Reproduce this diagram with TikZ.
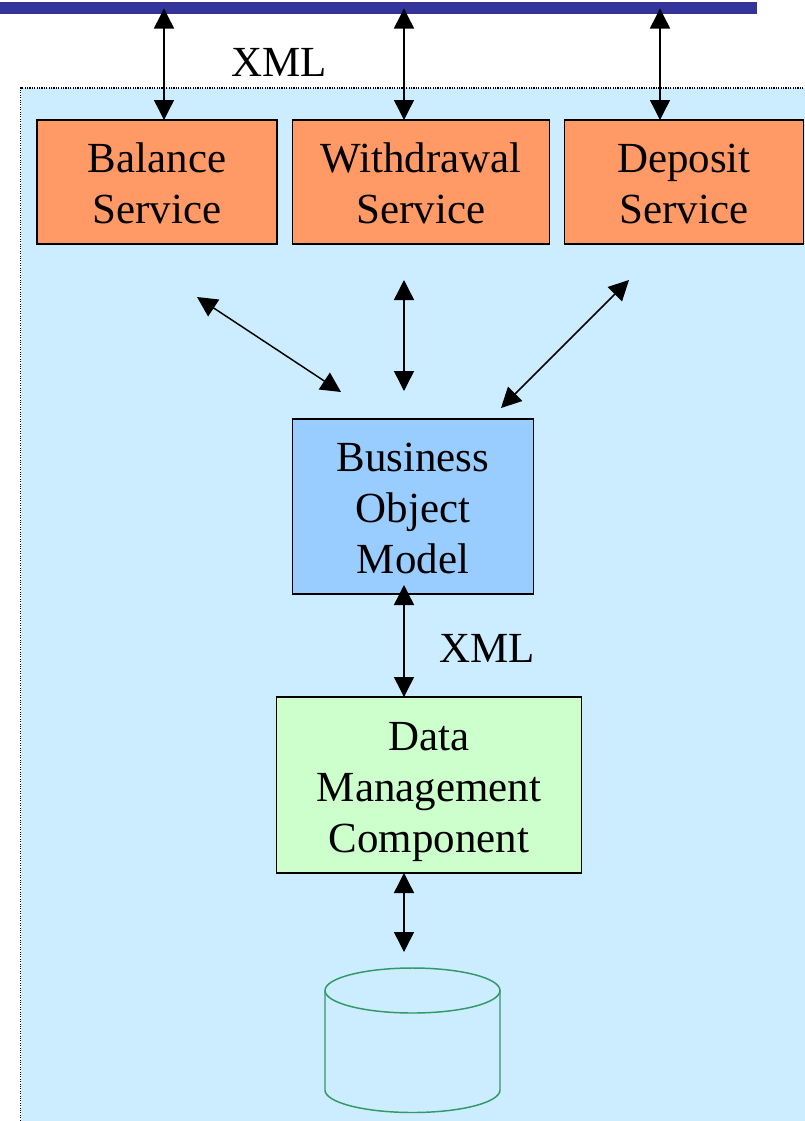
\documentclass[tikz,border=0pt]{standalone}
\usepackage{fontspec}
\setmainfont{Liberation Serif}
\usetikzlibrary{arrows.meta}
\definecolor{panelfill}{HTML}{CCECFF}
\definecolor{busfill}{HTML}{333399}
\definecolor{servicefill}{HTML}{FF9966}
\definecolor{bomfill}{HTML}{99CCFF}
\definecolor{datafill}{HTML}{CCFFCC}
\definecolor{cyl}{HTML}{339966}
\newcommand{\tallfirst}[1]{\rule{0pt}{#1}}
\tikzset{
  x=0.75pt,y=-0.75pt,
  boxnode/.style={draw=black,line width=1.1pt,inner sep=0pt,outer sep=0pt,align=center,
    font=\fontsize{32.2}{38.25}\selectfont,anchor=north west},
  twoway/.style={draw=black,line width=1.1pt,{Triangle[length=15pt,width=15pt]}-{Triangle[length=15pt,width=15pt]},shorten <=0pt,shorten >=0pt},
  lbl/.style={font=\fontsize{32.2}{38.25}\selectfont,inner sep=0pt},
  cylline/.style={draw=cyl,line width=1.1pt}
}
\begin{document}
\begin{tikzpicture}
\useasboundingbox (0,0) rectangle (804,1121);
\node[anchor=north west,inner sep=0pt,outer sep=0pt,fill=panelfill,draw=black,densely dotted,line width=0.8pt,minimum width=800*0.75pt,minimum height=1050*0.75pt] (panel) at (20.5,88) {};
\node[anchor=north west,inner sep=0pt,outer sep=0pt,fill=busfill,minimum width=757*0.75pt,minimum height=12*0.75pt] (bus) at (0,2) {};
\node[boxnode,fill=servicefill,minimum width=240*0.75pt,minimum height=124*0.75pt] (balance) at (37,120) {\tallfirst{25pt}Balance\\Service};
\node[boxnode,fill=servicefill,minimum width=257*0.75pt,minimum height=124*0.75pt] (withdrawal) at (292.5,120) {\tallfirst{25pt}Withdrawal\\Service};
\node[boxnode,fill=servicefill,minimum width=239*0.75pt,minimum height=124*0.75pt] (deposit) at (564.5,120) {\tallfirst{25pt}Deposit\\Service};
\node[boxnode,fill=bomfill,minimum width=241*0.75pt,minimum height=175*0.75pt] (bom) at (292.5,419) {\tallfirst{25pt}Business\\Object\\Model};
\node[boxnode,fill=datafill,minimum width=305*0.75pt,minimum height=176*0.75pt] (data) at (276.5,697) {\tallfirst{31pt}Data\\Management\\Component};
\node[lbl] (xmla) at (279,62) {XML};
\node[lbl] (xmlb) at (487,648) {XML};
\coordinate (t1a) at (164,8.5); \coordinate (t1b) at (164,120);
\coordinate (t2a) at (404,8.5); \coordinate (t2b) at (404,120);
\coordinate (t3a) at (660,8.5); \coordinate (t3b) at (660,120);
\coordinate (m1a) at (197,297); \coordinate (m1b) at (341,392);
\coordinate (m2a) at (404,280); \coordinate (m2b) at (404,391);
\coordinate (m3a) at (629,280); \coordinate (m3b) at (501,408);
\coordinate (d1a) at (404,585); \coordinate (d1b) at (404,697);
\coordinate (d2a) at (404,873); \coordinate (d2b) at (404,952);
\foreach \p/\q in {t1a/t1b,t2a/t2b,t3a/t3b,m1a/m1b,m2a/m2b,m3a/m3b,d1a/d1b,d2a/d2b}
  \draw[twoway] (\p) -- (\q);
\draw[cylline] (325,990.5) -- (325,1090) arc[start angle=180,end angle=360,x radius=87.5,y radius=-22.5] -- (500,990.5);
\draw[cylline] (412.5,990.5) ellipse[x radius=87.5,y radius=22.5];
\end{tikzpicture}
\end{document}
